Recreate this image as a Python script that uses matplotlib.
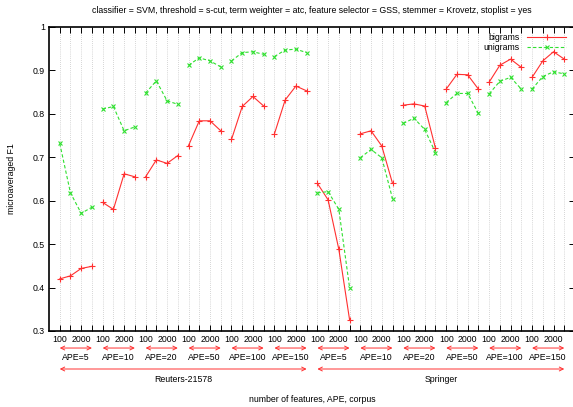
import matplotlib
matplotlib.use("Agg")
import matplotlib.pyplot as plt

plt.rcParams["font.family"] = ["Liberation Sans", "DejaVu Sans"]

# feature counts per APE group (only 100 and 2000 are labelled on the axis)
feat_labels = ["100", "", "2000", ""]
ape_values = ["5", "10", "20", "50", "100", "150"]
corpora = ["Reuters-21578", "Springer"]

# microaveraged F1, one list of 4 values per (corpus, APE) group
bigrams = [
    # Reuters-21578
    [0.420, 0.427, 0.444, 0.449],
    [0.596, 0.580, 0.662, 0.655],
    [0.655, 0.694, 0.686, 0.704],
    [0.727, 0.784, 0.784, 0.761],
    [0.741, 0.817, 0.840, 0.818],
    [0.754, 0.832, 0.864, 0.853],
    # Springer
    [0.640, 0.602, 0.488, 0.326],
    [0.754, 0.761, 0.726, 0.640],
    [0.820, 0.823, 0.818, 0.721],
    [0.857, 0.891, 0.890, 0.857],
    [0.873, 0.912, 0.926, 0.907],
    [0.884, 0.922, 0.943, 0.926],
]
unigrams = [
    [0.732, 0.618, 0.571, 0.585],
    [0.811, 0.817, 0.761, 0.770],
    [0.848, 0.876, 0.830, 0.822],
    [0.912, 0.929, 0.922, 0.908],
    [0.922, 0.941, 0.943, 0.937],
    [0.932, 0.947, 0.949, 0.941],
    [0.618, 0.621, 0.580, 0.400],
    [0.699, 0.718, 0.699, 0.605],
    [0.778, 0.790, 0.764, 0.711],
    [0.826, 0.847, 0.847, 0.801],
    [0.846, 0.875, 0.884, 0.857],
    [0.857, 0.886, 0.897, 0.892],
]

title = ("classifier = SVM, threshold = s-cut, term weighter = atc, "
         "feature selector = GSS, stemmer = Krovetz, stoplist = yes")

RED = "#ff3030"
GREEN = "#30e030"
FS = 6.3

fig = plt.figure(figsize=(5.73, 4.07), dpi=100)
ax = fig.add_axes([49 / 573, 1 - 331 / 407, 526 / 573, 304 / 407])

n = len(feat_labels)
for g, (b, u) in enumerate(zip(bigrams, unigrams)):
    xs = list(range(g * n, g * n + n))
    ax.plot(xs, b, color=RED, lw=0.8, marker="+", ms=4, mew=0.8,
            label="bigrams" if g == 0 else None)
    ax.plot(xs, u, color=GREEN, lw=0.8, ls=(0, (3, 2)), marker="x", ms=3.5,
            mew=0.8, label="unigrams" if g == 0 else None)

npts = n * len(bigrams)
ax.set_xlim(-1, npts)
ax.set_ylim(0.3, 1.0)
ax.set_xticks(range(npts))
ax.set_xticklabels(feat_labels * len(bigrams), fontsize=FS)
yt = [0.3, 0.4, 0.5, 0.6, 0.7, 0.8, 0.9, 1.0]
ax.set_yticks(yt)
ax.set_yticklabels([f"{v:g}" for v in yt], fontsize=FS)
ax.tick_params(direction="in", top=True, right=True, length=4, width=0.7,
               pad=3)
ax.grid(axis="x", color="#b0b0b0", ls=(0, (1, 2)), lw=0.5)
for s in ax.spines.values():
    s.set_linewidth(1.2)

ax.set_title(title, fontsize=FS, pad=10)
ax.set_ylabel("microaveraged F1", fontsize=FS, labelpad=12)

trans = ax.get_xaxis_transform()
arrow = dict(arrowstyle="<->", color=RED, lw=0.7, shrinkA=0, shrinkB=0,
             mutation_scale=7)
for g in range(len(bigrams)):
    x0, x1 = g * n, g * n + n - 1
    ax.annotate("", xy=(x0, -0.056), xytext=(x1, -0.056), xycoords=trans,
                arrowprops=arrow, annotation_clip=False)
    ax.text((x0 + x1) / 2, -0.086, "APE=" + ape_values[g % len(ape_values)],
            transform=trans, ha="center", va="center", fontsize=FS)
per = n * len(ape_values)
for c, name in enumerate(corpora):
    x0, x1 = c * per, c * per + per - 1
    ax.annotate("", xy=(x0, -0.125), xytext=(x1, -0.125), xycoords=trans,
                arrowprops=arrow, annotation_clip=False)
    ax.text((x0 + x1) / 2, -0.158, name, transform=trans, ha="center",
            va="center", fontsize=FS)
ax.text((npts - 1) / 2, -0.225, "number of features, APE, corpus",
        transform=trans, ha="center", va="center", fontsize=FS)

ax.legend(loc="upper right", frameon=False, fontsize=FS, markerfirst=False,
          handlelength=4.5, borderaxespad=0.3, labelspacing=0.1,
          bbox_to_anchor=(0.995, 1.0))

fig.savefig("out.png", dpi=100)
